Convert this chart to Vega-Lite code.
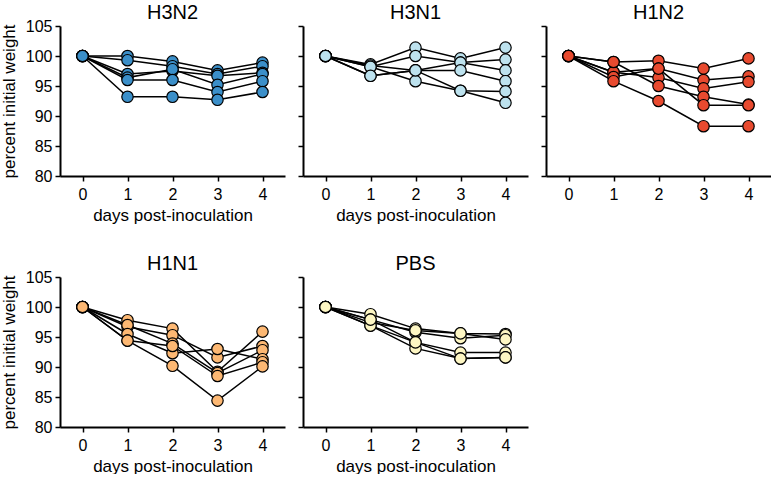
{
  "$schema": "https://vega.github.io/schema/vega-lite/v6.json",
  "padding": {"left": 0, "top": 3, "right": 0, "bottom": 0},
  "background": "white",
  "datasets": {
    "mice": [
      {"group":"H3N2","mouse":1,"day":0,"weight":100},{"group":"H3N2","mouse":1,"day":1,"weight":100},{"group":"H3N2","mouse":1,"day":2,"weight":99.1},{"group":"H3N2","mouse":1,"day":3,"weight":97.6},{"group":"H3N2","mouse":1,"day":4,"weight":98.9},
      {"group":"H3N2","mouse":2,"day":0,"weight":100},{"group":"H3N2","mouse":2,"day":1,"weight":99.3},{"group":"H3N2","mouse":2,"day":2,"weight":98.3},{"group":"H3N2","mouse":2,"day":3,"weight":97.0},{"group":"H3N2","mouse":2,"day":4,"weight":98.3},
      {"group":"H3N2","mouse":3,"day":0,"weight":100},{"group":"H3N2","mouse":3,"day":1,"weight":97.0},{"group":"H3N2","mouse":3,"day":2,"weight":97.5},{"group":"H3N2","mouse":3,"day":3,"weight":96.7},{"group":"H3N2","mouse":3,"day":4,"weight":97.2},
      {"group":"H3N2","mouse":4,"day":0,"weight":100},{"group":"H3N2","mouse":4,"day":1,"weight":96.4},{"group":"H3N2","mouse":4,"day":2,"weight":97.8},{"group":"H3N2","mouse":4,"day":3,"weight":95.2},{"group":"H3N2","mouse":4,"day":4,"weight":97.0},
      {"group":"H3N2","mouse":5,"day":0,"weight":100},{"group":"H3N2","mouse":5,"day":1,"weight":96.0},{"group":"H3N2","mouse":5,"day":2,"weight":96.0},{"group":"H3N2","mouse":5,"day":3,"weight":94.0},{"group":"H3N2","mouse":5,"day":4,"weight":95.8},
      {"group":"H3N2","mouse":6,"day":0,"weight":100},{"group":"H3N2","mouse":6,"day":1,"weight":93.2},{"group":"H3N2","mouse":6,"day":2,"weight":93.2},{"group":"H3N2","mouse":6,"day":3,"weight":92.7},{"group":"H3N2","mouse":6,"day":4,"weight":94.0},

      {"group":"H3N1","mouse":1,"day":0,"weight":100},{"group":"H3N1","mouse":1,"day":1,"weight":98.6},{"group":"H3N1","mouse":1,"day":2,"weight":101.4},{"group":"H3N1","mouse":1,"day":3,"weight":99.6},{"group":"H3N1","mouse":1,"day":4,"weight":101.4},
      {"group":"H3N1","mouse":2,"day":0,"weight":100},{"group":"H3N1","mouse":2,"day":1,"weight":98.2},{"group":"H3N1","mouse":2,"day":2,"weight":100.0},{"group":"H3N1","mouse":2,"day":3,"weight":98.9},{"group":"H3N1","mouse":2,"day":4,"weight":99.4},
      {"group":"H3N1","mouse":3,"day":0,"weight":100},{"group":"H3N1","mouse":3,"day":1,"weight":98.4},{"group":"H3N1","mouse":3,"day":2,"weight":97.6},{"group":"H3N1","mouse":3,"day":3,"weight":98.9},{"group":"H3N1","mouse":3,"day":4,"weight":97.6},
      {"group":"H3N1","mouse":4,"day":0,"weight":100},{"group":"H3N1","mouse":4,"day":1,"weight":96.7},{"group":"H3N1","mouse":4,"day":2,"weight":97.6},{"group":"H3N1","mouse":4,"day":3,"weight":97.6},{"group":"H3N1","mouse":4,"day":4,"weight":95.8},
      {"group":"H3N1","mouse":5,"day":0,"weight":100},{"group":"H3N1","mouse":5,"day":1,"weight":98.2},{"group":"H3N1","mouse":5,"day":2,"weight":95.8},{"group":"H3N1","mouse":5,"day":3,"weight":94.2},{"group":"H3N1","mouse":5,"day":4,"weight":94.1},
      {"group":"H3N1","mouse":6,"day":0,"weight":100},{"group":"H3N1","mouse":6,"day":1,"weight":96.7},{"group":"H3N1","mouse":6,"day":2,"weight":97.6},{"group":"H3N1","mouse":6,"day":3,"weight":94.2},{"group":"H3N1","mouse":6,"day":4,"weight":92.2},

      {"group":"H1N2","mouse":1,"day":0,"weight":100},{"group":"H1N2","mouse":1,"day":1,"weight":99.0},{"group":"H1N2","mouse":1,"day":2,"weight":99.2},{"group":"H1N2","mouse":1,"day":3,"weight":97.9},{"group":"H1N2","mouse":1,"day":4,"weight":99.6},
      {"group":"H1N2","mouse":2,"day":0,"weight":100},{"group":"H1N2","mouse":2,"day":1,"weight":97.3},{"group":"H1N2","mouse":2,"day":2,"weight":97.9},{"group":"H1N2","mouse":2,"day":3,"weight":96.0},{"group":"H1N2","mouse":2,"day":4,"weight":96.6},
      {"group":"H1N2","mouse":3,"day":0,"weight":100},{"group":"H1N2","mouse":3,"day":1,"weight":97.3},{"group":"H1N2","mouse":3,"day":2,"weight":96.4},{"group":"H1N2","mouse":3,"day":3,"weight":94.6},{"group":"H1N2","mouse":3,"day":4,"weight":95.7},
      {"group":"H1N2","mouse":4,"day":0,"weight":100},{"group":"H1N2","mouse":4,"day":1,"weight":99.0},{"group":"H1N2","mouse":4,"day":2,"weight":95.0},{"group":"H1N2","mouse":4,"day":3,"weight":93.2},{"group":"H1N2","mouse":4,"day":4,"weight":91.9},
      {"group":"H1N2","mouse":5,"day":0,"weight":100},{"group":"H1N2","mouse":5,"day":1,"weight":96.5},{"group":"H1N2","mouse":5,"day":2,"weight":97.9},{"group":"H1N2","mouse":5,"day":3,"weight":91.8},{"group":"H1N2","mouse":5,"day":4,"weight":91.8},
      {"group":"H1N2","mouse":6,"day":0,"weight":100},{"group":"H1N2","mouse":6,"day":1,"weight":95.8},{"group":"H1N2","mouse":6,"day":2,"weight":92.5},{"group":"H1N2","mouse":6,"day":3,"weight":88.3},{"group":"H1N2","mouse":6,"day":4,"weight":88.3},

      {"group":"H1N1","mouse":1,"day":0,"weight":100},{"group":"H1N1","mouse":1,"day":1,"weight":97.8},{"group":"H1N1","mouse":1,"day":2,"weight":96.4},{"group":"H1N1","mouse":1,"day":3,"weight":89.2},{"group":"H1N1","mouse":1,"day":4,"weight":95.9},
      {"group":"H1N1","mouse":2,"day":0,"weight":100},{"group":"H1N1","mouse":2,"day":1,"weight":96.7},{"group":"H1N1","mouse":2,"day":2,"weight":95.3},{"group":"H1N1","mouse":2,"day":3,"weight":91.6},{"group":"H1N1","mouse":2,"day":4,"weight":93.5},
      {"group":"H1N1","mouse":3,"day":0,"weight":100},{"group":"H1N1","mouse":3,"day":1,"weight":97.0},{"group":"H1N1","mouse":3,"day":2,"weight":93.9},{"group":"H1N1","mouse":3,"day":3,"weight":89.0},{"group":"H1N1","mouse":3,"day":4,"weight":92.8},
      {"group":"H1N1","mouse":4,"day":0,"weight":100},{"group":"H1N1","mouse":4,"day":1,"weight":95.5},{"group":"H1N1","mouse":4,"day":2,"weight":92.3},{"group":"H1N1","mouse":4,"day":3,"weight":93.0},{"group":"H1N1","mouse":4,"day":4,"weight":91.3},
      {"group":"H1N1","mouse":5,"day":0,"weight":100},{"group":"H1N1","mouse":5,"day":1,"weight":94.4},{"group":"H1N1","mouse":5,"day":2,"weight":93.5},{"group":"H1N1","mouse":5,"day":3,"weight":88.5},{"group":"H1N1","mouse":5,"day":4,"weight":90.8},
      {"group":"H1N1","mouse":6,"day":0,"weight":100},{"group":"H1N1","mouse":6,"day":1,"weight":94.4},{"group":"H1N1","mouse":6,"day":2,"weight":90.2},{"group":"H1N1","mouse":6,"day":3,"weight":84.4},{"group":"H1N1","mouse":6,"day":4,"weight":90.1},

      {"group":"PBS","mouse":1,"day":0,"weight":100},{"group":"PBS","mouse":1,"day":1,"weight":98.8},{"group":"PBS","mouse":1,"day":2,"weight":96.4},{"group":"PBS","mouse":1,"day":3,"weight":95.6},{"group":"PBS","mouse":1,"day":4,"weight":95.5},
      {"group":"PBS","mouse":2,"day":0,"weight":100},{"group":"PBS","mouse":2,"day":1,"weight":97.9},{"group":"PBS","mouse":2,"day":2,"weight":95.8},{"group":"PBS","mouse":2,"day":3,"weight":94.8},{"group":"PBS","mouse":2,"day":4,"weight":95.3},
      {"group":"PBS","mouse":3,"day":0,"weight":100},{"group":"PBS","mouse":3,"day":1,"weight":97.4},{"group":"PBS","mouse":3,"day":2,"weight":96.1},{"group":"PBS","mouse":3,"day":3,"weight":95.6},{"group":"PBS","mouse":3,"day":4,"weight":94.6},
      {"group":"PBS","mouse":4,"day":0,"weight":100},{"group":"PBS","mouse":4,"day":1,"weight":96.9},{"group":"PBS","mouse":4,"day":2,"weight":94.1},{"group":"PBS","mouse":4,"day":3,"weight":92.4},{"group":"PBS","mouse":4,"day":4,"weight":92.4},
      {"group":"PBS","mouse":5,"day":0,"weight":100},{"group":"PBS","mouse":5,"day":1,"weight":96.9},{"group":"PBS","mouse":5,"day":2,"weight":93.1},{"group":"PBS","mouse":5,"day":3,"weight":91.4},{"group":"PBS","mouse":5,"day":4,"weight":91.6},
      {"group":"PBS","mouse":6,"day":0,"weight":100},{"group":"PBS","mouse":6,"day":1,"weight":97.9},{"group":"PBS","mouse":6,"day":2,"weight":94.1},{"group":"PBS","mouse":6,"day":3,"weight":91.4},{"group":"PBS","mouse":6,"day":4,"weight":91.6}
    ]
  },
  "data": {"name": "mice"},
  "spacing": 31,
  "vconcat": [
    {
      "spacing": 12,
      "hconcat": [
        {
          "width": 225, "height": 150, "title": {"text": "H3N2", "offset": -5},
          "transform": [{"filter": "datum.group === 'H3N2'"}],
          "encoding": {
            "x": {"field": "day", "type": "quantitative", "scale": {"domain": [-0.5, 4.5], "nice": false}, "axis": {"values": [0,1,2,3,4], "labelOverlap": false, "labelFontSize": 16, "titleFontSize": 17, "title": "days post-inoculation"}},
            "y": {"field": "weight", "type": "quantitative", "scale": {"domain": [80, 105], "nice": false, "zero": false}, "axis": {"values": [80,85,90,95,100,105], "labelOverlap": false, "labelFontSize": 16, "titleFontSize": 17, "title": "percent initial weight"}}
          },
          "layer": [
            {"mark": {"type": "line", "color": "black", "strokeWidth": 1.5}, "encoding": {"detail": {"field": "mouse"}}},
            {"mark": {"type": "point", "filled": true, "fill": "#3b8fc9", "stroke": "black", "strokeWidth": 1.2, "size": 130, "opacity": 1}, "encoding": {}}
          ]
        },
        {
          "width": 225, "height": 150, "title": {"text": "H3N1", "offset": 2},
          "transform": [{"filter": "datum.group === 'H3N1'"}],
          "encoding": {
            "x": {"field": "day", "type": "quantitative", "scale": {"domain": [-0.5, 4.5], "nice": false}, "axis": {"values": [0,1,2,3,4], "labelOverlap": false, "labelFontSize": 16, "titleFontSize": 17, "title": "days post-inoculation"}},
            "y": {"field": "weight", "type": "quantitative", "scale": {"domain": [80, 105], "nice": false, "zero": false}, "axis": {"values": [80,85,90,95,100,105], "labels": false, "title": null}}
          },
          "layer": [
            {"mark": {"type": "line", "color": "black", "strokeWidth": 1.5}, "encoding": {"detail": {"field": "mouse"}}},
            {"mark": {"type": "point", "filled": true, "fill": "#bde2ee", "stroke": "black", "strokeWidth": 1.2, "size": 130, "opacity": 1}, "encoding": {}}
          ]
        },
        {
          "width": 225, "height": 150, "title": {"text": "H1N2", "offset": 2},
          "transform": [{"filter": "datum.group === 'H1N2'"}],
          "encoding": {
            "x": {"field": "day", "type": "quantitative", "scale": {"domain": [-0.5, 4.5], "nice": false}, "axis": {"values": [0,1,2,3,4], "labelOverlap": false, "labelFontSize": 16, "title": null}},
            "y": {"field": "weight", "type": "quantitative", "scale": {"domain": [80, 105], "nice": false, "zero": false}, "axis": {"values": [80,85,90,95,100,105], "labels": false, "title": null}}
          },
          "layer": [
            {"mark": {"type": "line", "color": "black", "strokeWidth": 1.5}, "encoding": {"detail": {"field": "mouse"}}},
            {"mark": {"type": "point", "filled": true, "fill": "#e84a2f", "stroke": "black", "strokeWidth": 1.2, "size": 130, "opacity": 1}, "encoding": {}}
          ]
        }
      ]
    },
    {
      "spacing": 12,
      "hconcat": [
        {
          "width": 225, "height": 150, "title": {"text": "H1N1", "offset": -5},
          "transform": [{"filter": "datum.group === 'H1N1'"}],
          "encoding": {
            "x": {"field": "day", "type": "quantitative", "scale": {"domain": [-0.5, 4.5], "nice": false}, "axis": {"values": [0,1,2,3,4], "labelOverlap": false, "labelFontSize": 16, "titleFontSize": 17, "title": "days post-inoculation"}},
            "y": {"field": "weight", "type": "quantitative", "scale": {"domain": [80, 105], "nice": false, "zero": false}, "axis": {"values": [80,85,90,95,100,105], "labelOverlap": false, "labelFontSize": 16, "titleFontSize": 17, "title": "percent initial weight"}}
          },
          "layer": [
            {"mark": {"type": "line", "color": "black", "strokeWidth": 1.5}, "encoding": {"detail": {"field": "mouse"}}},
            {"mark": {"type": "point", "filled": true, "fill": "#fdb873", "stroke": "black", "strokeWidth": 1.2, "size": 130, "opacity": 1}, "encoding": {}}
          ]
        },
        {
          "width": 225, "height": 150, "title": {"text": "PBS", "offset": 2},
          "transform": [{"filter": "datum.group === 'PBS'"}],
          "encoding": {
            "x": {"field": "day", "type": "quantitative", "scale": {"domain": [-0.5, 4.5], "nice": false}, "axis": {"values": [0,1,2,3,4], "labelOverlap": false, "labelFontSize": 16, "titleFontSize": 17, "title": "days post-inoculation"}},
            "y": {"field": "weight", "type": "quantitative", "scale": {"domain": [80, 105], "nice": false, "zero": false}, "axis": {"values": [80,85,90,95,100,105], "labels": false, "title": null}}
          },
          "layer": [
            {"mark": {"type": "line", "color": "black", "strokeWidth": 1.5}, "encoding": {"detail": {"field": "mouse"}}},
            {"mark": {"type": "point", "filled": true, "fill": "#fdf6c3", "stroke": "black", "strokeWidth": 1.2, "size": 130, "opacity": 1}, "encoding": {}}
          ]
        }
      ]
    }
  ],
  "config": {
    "font": "Liberation Sans",
    "view": {"stroke": null},
    "title": {"fontSize": 20, "fontWeight": "normal", "color": "black", "font": "Liberation Sans"},
    "axis": {"grid": false, "domainColor": "black", "domainWidth": 2, "tickColor": "black", "tickWidth": 1.5, "tickSize": 5,
             "labelColor": "black", "labelFont": "Liberation Sans",
             "titleFontWeight": "normal", "titleColor": "black", "titleFont": "Liberation Sans"},
    "axisX": {"titlePadding": 5, "labelPadding": 5},
    "axisY": {"titlePadding": 7, "labelPadding": 3}
  }
}
